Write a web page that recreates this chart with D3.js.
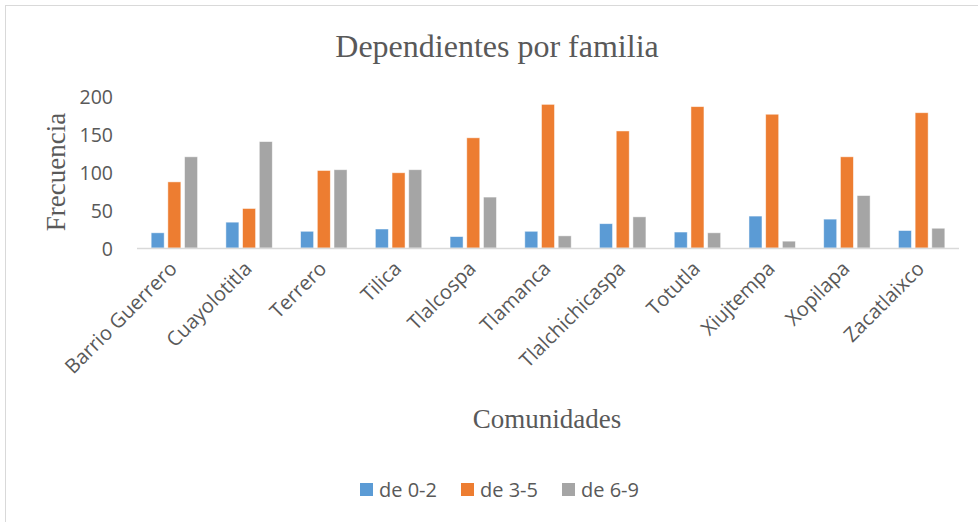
<!DOCTYPE html>
<html>
<head>
<meta charset="utf-8">
<script src="https://cdn.jsdelivr.net/npm/d3@7"></script>
<style>
  html, body { margin: 0; padding: 0; background: #fff; }
  svg { display: block; }
</style>
</head>
<body>
<svg id="chart" width="978" height="522"></svg>
<script>
// Communities and dependants per family, by age band
const categories = ["Barrio Guerrero", "Cuayolotitla", "Terrero", "Tilica", "Tlalcospa", "Tlamanca",
  "Tlalchichicaspa", "Totutla", "Xiujtempa", "Xopilapa", "Zacatlaixco"];
const seriesNames = ["de 0-2", "de 3-5", "de 6-9"];
const age0to2 = [20, 34, 22, 25, 15, 22, 32, 21, 42, 38, 23];
const age3to5 = [87, 52, 102, 99, 145, 189, 154, 186, 176, 120, 178];
const age6to9 = [120, 140, 103, 103, 67, 16, 41, 20, 9, 69, 26];
const yTicks = [0, 50, 100, 150, 200];
const colors = ["#5B9BD5", "#ED7D31", "#A5A5A5"];

const seriesValues = [age0to2, age3to5, age6to9];

const sans = "'Open Sans', 'Noto Sans', sans-serif";
const serif = "'Liberation Serif', 'Times New Roman', serif";

const svg = d3.select("#chart");
const plot = { left: 137, right: 959, top: 96, bottom: 248 };

// outer frame
svg.append("rect")
  .attr("x", 5.5).attr("y", 5.5)
  .attr("width", 1000).attr("height", 600)
  .attr("fill", "#fff").attr("stroke", "#D9D9D9").attr("stroke-width", 1);

const x = d3.scaleBand().domain(categories).range([plot.left, plot.right]).paddingInner(0).paddingOuter(0);
const y = d3.scaleLinear().domain([0, 200]).range([plot.bottom, plot.top]);

const barStep = 16.7, barW = 13;
const xs = d3.scaleBand().domain(seriesNames)
  .range([x.bandwidth() / 2 - 1.5 * barStep, x.bandwidth() / 2 + 1.5 * barStep]);

// bars
const groups = svg.append("g").selectAll("g")
  .data(categories).join("g")
  .attr("transform", d => `translate(${x(d)},0)`);

groups.selectAll("rect")
  .data((d, i) => seriesNames.map((s, k) => ({ s, k, v: seriesValues[k][i] })))
  .join("rect")
  .attr("x", d => xs(d.s) + (barStep - barW) / 2)
  .attr("width", barW)
  .attr("y", d => y(d.v))
  .attr("height", d => y(0) - y(d.v))
  .attr("fill", d => colors[d.k])
  .attr("stroke", "#fff").attr("stroke-width", 0.8).attr("stroke-opacity", 0.6);

// baseline
svg.append("line")
  .attr("x1", plot.left).attr("x2", plot.right)
  .attr("y1", y(0) + 0.5).attr("y2", y(0) + 0.5)
  .attr("stroke", "#D9D9D9").attr("stroke-width", 1.5);

// y axis (labels only)
const yAxis = d3.axisLeft(y).tickValues(yTicks).tickSize(0).tickPadding(0);
const gy = svg.append("g").attr("transform", `translate(113,0)`).call(yAxis);
gy.select(".domain").remove();
gy.selectAll("text")
  .attr("font-family", sans)
  .attr("font-size", 19.5).attr("fill", "#595959").attr("dy", "0.36em");

// x axis labels, rotated
const xAxis = d3.axisBottom(x).tickSize(0).tickPadding(0);
const gx = svg.append("g").attr("transform", `translate(0,${plot.bottom})`).call(xAxis);
gx.select(".domain").remove();
gx.selectAll("text")
  .attr("font-family", sans)
  .attr("font-size", 20).attr("fill", "#595959")
  .attr("text-anchor", "end")
  .attr("dy", "0.35em")
  .attr("transform", "translate(-1,17) rotate(-45)");

// title
svg.append("text")
  .attr("x", 497).attr("y", 57)
  .attr("text-anchor", "middle")
  .attr("font-family", serif)
  .attr("font-size", 32).attr("fill", "#595959")
  .text("Dependientes por familia");

// y axis title
svg.append("text")
  .attr("transform", "translate(65,172) rotate(-90)")
  .attr("text-anchor", "middle")
  .attr("font-family", serif)
  .attr("font-size", 27).attr("fill", "#595959")
  .text("Frecuencia");

// x axis title
svg.append("text")
  .attr("x", 547).attr("y", 428)
  .attr("text-anchor", "middle")
  .attr("font-family", serif)
  .attr("font-size", 27).attr("fill", "#595959")
  .text("Comunidades");

// legend
const legendX = [360, 461, 562];
const legend = svg.append("g").selectAll("g")
  .data(seriesNames).join("g")
  .attr("transform", (d, i) => `translate(${legendX[i]},483)`);
legend.append("rect")
  .attr("width", 13).attr("height", 13)
  .attr("fill", (d, i) => colors[i]);
legend.append("text")
  .attr("x", 19).attr("y", 6.5).attr("dy", "0.36em")
  .attr("font-family", sans)
  .attr("font-size", 20).attr("fill", "#595959")
  .text(d => d);
</script>
</body>
</html>
